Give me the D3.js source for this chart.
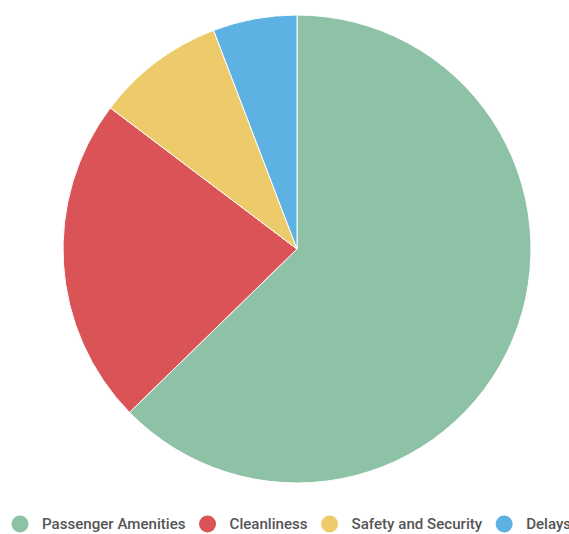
<!DOCTYPE html>
<html>
<head>
<meta charset="utf-8">
<script src="https://cdn.jsdelivr.net/npm/d3@7"></script>
<style>
  html, body { margin: 0; padding: 0; background: #fff; overflow: hidden; }
  svg { display: block; }
</style>
</head>
<body>
<svg id="chart" width="569" height="534"></svg>
<script>
const categories = ["Passenger Amenities", "Cleanliness", "Safety and Security", "Delays"];
const values = [62.7, 22.6, 8.9, 5.8];
const colors = ["#8dc2a7", "#d95357", "#eecb6a", "#5eb2e3"];

const svg = d3.select("#chart");
const cx = 297, cy = 249, r = 234;

const pie = d3.pie().sort(null).value(d => d.value);
const arc = d3.arc().innerRadius(0).outerRadius(r);
const data = categories.map((c, i) => ({ name: c, value: values[i], color: colors[i] }));

const g = svg.append("g").attr("transform", `translate(${cx},${cy})`);
g.selectAll("path")
  .data(pie(data))
  .join("path")
  .attr("d", arc)
  .attr("fill", d => d.data.color)
  .attr("stroke", "#fff")
  .attr("stroke-width", 1);

// Legend
const legend = svg.append("g").attr("class", "legend");
let x = 20;
const ly = 524;
data.forEach(d => {
  legend.append("circle").attr("cx", x).attr("cy", ly).attr("r", 8.5).attr("fill", d.color);
  const t = legend.append("text")
    .attr("x", x + 22)
    .attr("y", ly + 5)
    .attr("font-family", "Roboto, sans-serif")
    .attr("font-size", 15.1)
    .attr("font-weight", 500)
    .attr("fill", "#555")
    .text(d.name);
  const w = t.node().getComputedTextLength();
  x = x + 22 + w + 22;
});
</script>
</body>
</html>
